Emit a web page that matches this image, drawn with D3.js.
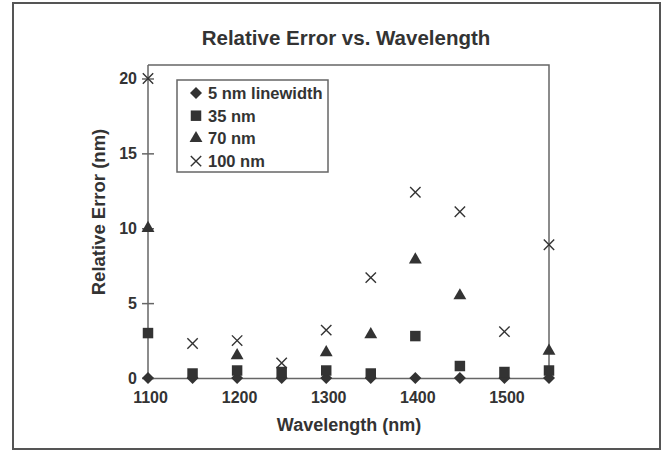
<!DOCTYPE html>
<html>
<head>
<meta charset="utf-8">
<script src="https://cdn.jsdelivr.net/npm/d3@7"></script>
<style>
  body { margin: 0; background: #fff; }
  text { font-family: "Liberation Sans", Arial, Helvetica, sans-serif; font-weight: bold; fill: #333; }
</style>
</head>
<body>
<div id="wrapper"></div>
<script>
// data
const wavelengths = [1100, 1150, 1200, 1250, 1300, 1350, 1400, 1450, 1500, 1550]
const err5nm = [0, 0, 0, 0, 0, 0, 0, 0, 0, 0]
const err35nm = [3.0, 0.3, 0.5, 0.4, 0.5, 0.3, 2.8, 0.8, 0.4, 0.5]
const err70nm = [10, null, 1.5, null, 1.7, 2.9, 7.9, 5.5, null, 1.8]
const err100nm = [20, 2.3, 2.5, 1.0, 3.2, 6.7, 12.4, 11.1, 3.1, 8.9]
const seriesNames = ["5 nm linewidth", "35 nm", "70 nm", "100 nm"]
const xTicks = [1100, 1200, 1300, 1400, 1500]
const yTicks = [0, 5, 10, 15, 20]

function drawChart() {
  const dimensions = {
    width: 664,
    height: 451,
    margin: { top: 65, right: 115, bottom: 73, left: 148 },
  }
  dimensions.boundedWidth = dimensions.width - dimensions.margin.left - dimensions.margin.right
  dimensions.boundedHeight = dimensions.height - dimensions.margin.top - dimensions.margin.bottom

  const wrapper = d3.select("#wrapper")
    .append("svg")
      .attr("width", dimensions.width)
      .attr("height", dimensions.height)

  // outer frame of the figure
  wrapper.append("rect")
      .attr("x", 13)
      .attr("y", 3)
      .attr("width", 647)
      .attr("height", 446)
      .attr("fill", "none")
      .attr("stroke", "#555")
      .attr("stroke-width", 2)

  const bounds = wrapper.append("g")
      .attr("transform", `translate(${dimensions.margin.left}, ${dimensions.margin.top})`)

  // scales
  const xScale = d3.scaleLinear()
    .domain([1100, 1550])
    .range([0, dimensions.boundedWidth])
  const yScale = d3.scaleLinear()
    .domain([0, 20.9])
    .range([dimensions.boundedHeight, 0])

  // plot frame (top and right side)
  bounds.append("path")
      .attr("d", `M0,0H${dimensions.boundedWidth}V${dimensions.boundedHeight}`)
      .attr("fill", "none")
      .attr("stroke", "#666")
      .attr("stroke-width", 1.5)

  // axes
  const xAxisGenerator = d3.axisBottom(xScale)
    .tickValues(xTicks)
    .tickSize(0)
    .tickPadding(14)
    .tickFormat(d3.format("d"))
  const xAxis = bounds.append("g")
      .attr("transform", `translate(0, ${dimensions.boundedHeight})`)
      .call(xAxisGenerator)
  xAxis.selectAll("text").style("font-size", "16px").attr("dx", 2)

  const yAxisGenerator = d3.axisLeft(yScale)
    .tickValues(yTicks)
    .tickSizeInner(-6)
    .tickSizeOuter(0)
    .tickPadding(10)
  const yAxis = bounds.append("g")
      .call(yAxisGenerator)
  yAxis.selectAll(".tick line").attr("x1", -6)
  yAxis.selectAll("text").style("font-size", "16px").attr("dx", -1)

  bounds.selectAll(".domain").attr("stroke", "#666").attr("stroke-width", 1.5)
  bounds.selectAll(".tick line").attr("stroke", "#666").attr("stroke-width", 1.5)
  // y axis domain spans to the top of the frame
  yAxis.select(".domain").attr("d", `M0,${dimensions.boundedHeight}V0`)

  // markers
  const symbols = [
    d3.symbol().type(d3.symbolSquare).size(72),
    d3.symbol().type(d3.symbolSquare).size(110),
    d3.symbol().type(d3.symbolTriangle).size(72),
    d3.symbol().type(d3.symbolTimes).size(72),
  ]
  const rotations = [45, 0, 0, 0]
  const allSeries = [err5nm, err35nm, err70nm, err100nm]

  allSeries.forEach((values, i) => {
    const points = wavelengths
      .map((w, j) => ({ w, v: values[j] }))
      .filter(d => d.v != null)
    bounds.append("g")
      .selectAll("path")
      .data(points)
      .join("path")
        .attr("d", symbols[i])
        .attr("transform", d => `translate(${xScale(d.w)}, ${yScale(d.v)}) rotate(${rotations[i]})`)
        .attr("fill", i == 3 ? "none" : "#333")
        .attr("stroke", i == 3 ? "#333" : "none")
        .attr("stroke-width", 1.4)
  })

  // legend
  const legend = wrapper.append("g")
      .attr("transform", "translate(177, 80)")
  legend.append("rect")
      .attr("width", 151)
      .attr("height", 92)
      .attr("fill", "#fff")
      .attr("stroke", "#666")
      .attr("stroke-width", 1.5)
  const legendItems = legend.selectAll(".item")
    .data(seriesNames)
    .join("g")
      .attr("class", "item")
      .attr("transform", (d, i) => `translate(19, ${13 + i * 22.7})`)
  legendItems.append("path")
      .attr("d", (d, i) => symbols[i]())
      .attr("transform", (d, i) => `rotate(${rotations[i]})`)
      .attr("fill", (d, i) => i == 3 ? "none" : "#333")
      .attr("stroke", (d, i) => i == 3 ? "#333" : "none")
      .attr("stroke-width", 1.4)
  legendItems.append("text")
      .attr("x", 12)
      .attr("dy", "0.36em")
      .style("font-size", "16.5px")
      .text(d => d)

  // titles
  wrapper.append("text")
      .attr("x", 346)
      .attr("y", 45)
      .attr("text-anchor", "middle")
      .style("font-size", "20.5px")
      .text("Relative Error vs. Wavelength")

  wrapper.append("text")
      .attr("x", 349)
      .attr("y", 431)
      .attr("text-anchor", "middle")
      .style("font-size", "18px")
      .text("Wavelength (nm)")

  wrapper.append("text")
      .attr("transform", "translate(105, 212) rotate(-90)")
      .attr("text-anchor", "middle")
      .style("font-size", "18.5px")
      .text("Relative Error (nm)")
}
drawChart()
</script>
</body>
</html>
